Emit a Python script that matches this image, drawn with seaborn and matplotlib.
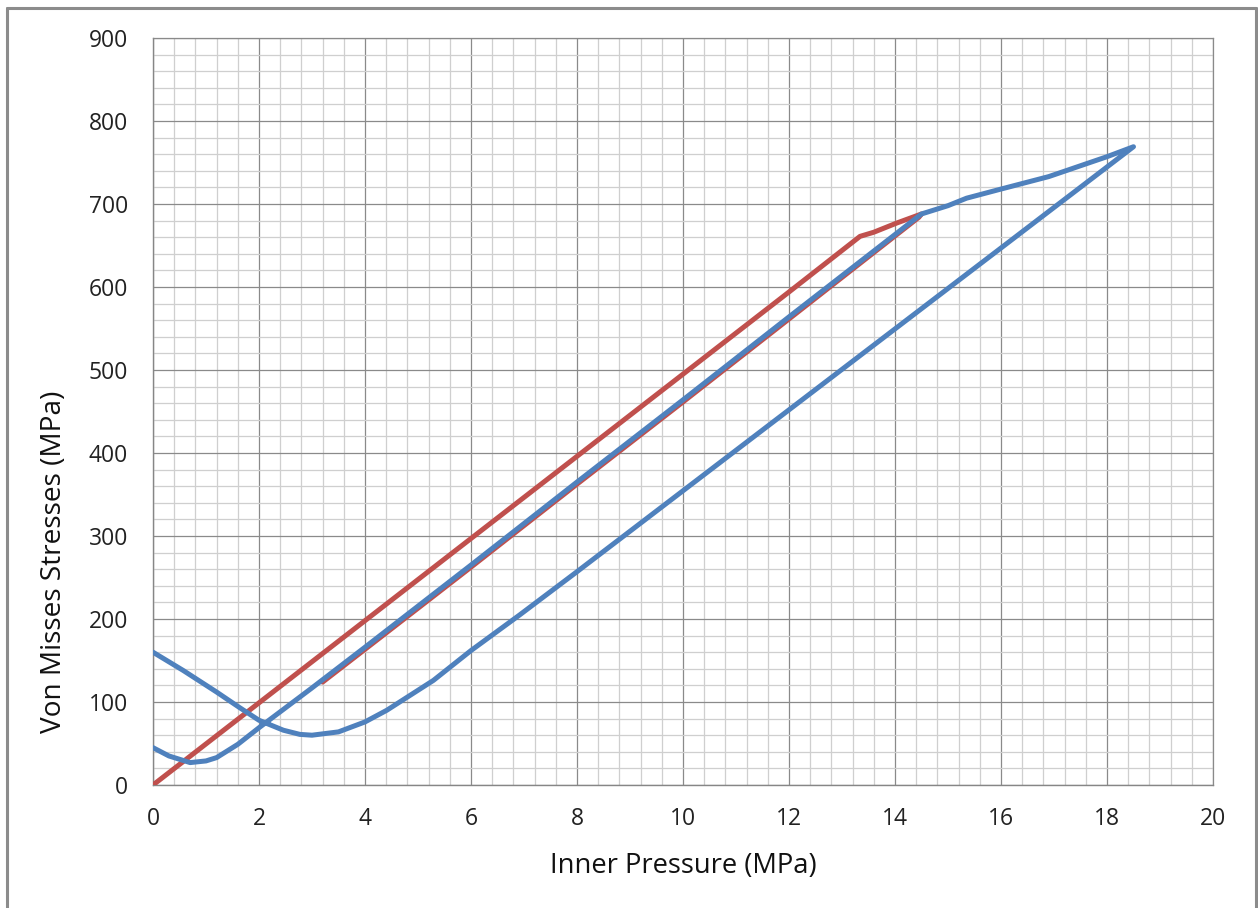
import matplotlib
matplotlib.use("Agg")
import matplotlib.pyplot as plt
import seaborn as sns
import pandas as pd
from matplotlib.ticker import MultipleLocator
from matplotlib.lines import Line2D

# ---- data ----
# red: loading path, then unloading path (mostly hidden under the blue curve)
red_x = [0, 2, 4, 6, 8, 10, 12, 13.0, 13.34, 13.6, 14.03, 14.5,
         14.45, 12, 10, 8, 6, 4, 3.2]
red_y = [0, 99, 198, 297, 396, 495, 594, 644, 661, 666, 677, 688,
         684, 561.5, 461.5, 362.5, 262.5, 163.5, 124]

# blue: loading to 18.5 MPa, then unloading back to 0
blue_x = [0, 0.3, 0.7, 1.0, 1.2, 1.6, 2.0, 2.5, 3.0, 4.0, 6, 8, 10, 12, 14.5,
          15.0, 15.35, 16.0, 16.9, 18.0, 18.5,
          16, 12, 8, 6.92, 6.0, 5.29, 4.85, 4.41, 4.0, 3.5, 3.0, 2.77, 2.46,
          2.0, 1.64, 1.2, 0.57, 0]
blue_y = [45, 35, 27, 29, 33, 49, 69, 93, 117, 166, 265, 365, 464, 564, 688,
          698, 707, 718, 733, 757, 769,
          647, 452, 257, 205, 162, 126, 108, 90, 76, 64, 60, 61, 66,
          78, 93, 112, 138, 160]

red_df = pd.DataFrame({"p": red_x, "s": red_y})
blue_df = pd.DataFrame({"p": blue_x, "s": blue_y})

x_ticks = list(range(0, 21, 2))
y_ticks = list(range(0, 901, 100))

sns.set_style("white")
plt.rcParams["font.family"] = ["Open Sans", "DejaVu Sans"]

fig = plt.figure(figsize=(12.58, 9.08), dpi=100)
ax = fig.add_axes([153/1258, 123/908, 1060/1258, 747/908])

red = "#C0504D"
blue = "#4F81BD"
sns.lineplot(data=red_df, x="p", y="s", sort=False, estimator=None, ax=ax,
             color=red, linewidth=3.6, zorder=3)
sns.lineplot(data=blue_df, x="p", y="s", sort=False, estimator=None, ax=ax,
             color=blue, linewidth=3.6, zorder=4)
for ln in ax.lines:
    ln.set_solid_joinstyle("round")
    ln.set_solid_capstyle("round")

ax.set_xlim(0, 20)
ax.set_ylim(0, 900)
ax.set_xticks(x_ticks)
ax.set_yticks(y_ticks)
ax.xaxis.set_minor_locator(MultipleLocator(0.4))
ax.yaxis.set_minor_locator(MultipleLocator(20))
ax.grid(which="major", color="#8a8a8a", linewidth=0.9, zorder=1)
ax.grid(which="minor", color="#cfcfcf", linewidth=0.9, zorder=0)
ax.set_axisbelow(True)

for side in ["left", "bottom"]:
    ax.spines[side].set_color("#868686")
    ax.spines[side].set_linewidth(1.0)
for side in ["top", "right"]:
    ax.spines[side].set_color("#8a8a8a")
    ax.spines[side].set_linewidth(0.9)

ax.tick_params(which="major", direction="out", length=6, width=0.9,
               color="#868686", labelsize=16.5, labelcolor="#222222")
ax.tick_params(axis="y", which="major", pad=12)
ax.tick_params(axis="x", which="major", pad=10)
ax.tick_params(which="minor", length=0)

ax.set_xlabel("Inner Pressure (MPa)", fontsize=19.7, color="#111111", labelpad=15)
ax.set_ylabel("Von Misses Stresses (MPa)", fontsize=20.2, color="#111111")
ax.yaxis.set_label_coords(-0.080, 0.2985)

# outer chart frame
fc = "#8c8c8c"
fig.add_artist(Line2D([7/1258, 7/1258], [0, 1 - 8/908], color=fc, linewidth=2.2,
                      transform=fig.transFigure))
fig.add_artist(Line2D([7/1258, 1256/1258], [1 - 8/908, 1 - 8/908], color=fc,
                      linewidth=2.2, transform=fig.transFigure))
fig.add_artist(Line2D([1256/1258, 1256/1258], [0, 1 - 8/908], color=fc,
                      linewidth=2.2, transform=fig.transFigure))

fig.savefig("out.png", dpi=100)
